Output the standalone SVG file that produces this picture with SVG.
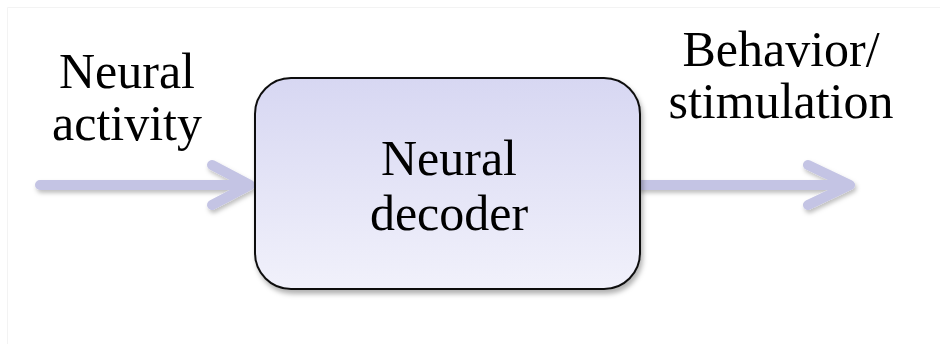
<svg xmlns="http://www.w3.org/2000/svg" width="940" height="344" viewBox="0 0 940 344">
  <style>
    .lbl { font-family: "Liberation Serif", "Times New Roman", serif; font-size: 50px; fill: #000; text-anchor: middle; }
    .arrow { fill: none; stroke: #c4c4e4; stroke-width: 10; stroke-linecap: round; stroke-linejoin: round; }
  </style>
  <defs>
    <linearGradient id="boxFill" x1="0" y1="0" x2="0" y2="1">
      <stop offset="0" stop-color="#d7d7f2"/>
      <stop offset="1" stop-color="#f1f1fb"/>
    </linearGradient>
    <filter id="shadow" x="-10%" y="-20%" width="130%" height="150%">
      <feDropShadow dx="2" dy="4" stdDeviation="2.5" flood-color="#000" flood-opacity="0.3"/>
    </filter>
    <filter id="ashadow" x="-10%" y="-50%" width="130%" height="200%">
      <feDropShadow dx="1.5" dy="3" stdDeviation="2" flood-color="#000" flood-opacity="0.25"/>
    </filter>
  </defs>
  <rect width="940" height="344" fill="#ffffff"/>
  <path d="M7.5 344 V7.5 H940" fill="none" stroke="#f3f3f3" stroke-width="1"/>

  <g id="connectors">
    <g id="arrow-in" filter="url(#ashadow)">
      <path class="arrow" d="M40 185 H246 M212 165 L250 185 L212 205"/>
    </g>
    <g id="arrow-out" filter="url(#ashadow)">
      <path class="arrow" d="M640 185 H846 M808 165 L850 185 L808 205"/>
    </g>
  </g>

  <g id="decoder">
    <rect x="255" y="78" width="385" height="211" rx="36" ry="36" fill="url(#boxFill)" stroke="#111" stroke-width="2" filter="url(#shadow)"/>
    <text class="lbl" x="449" y="175">Neural</text>
    <text class="lbl" x="449" y="230">decoder</text>
  </g>

  <g id="input-label">
    <text class="lbl" x="127" y="88">Neural</text>
    <text class="lbl" x="127" y="140">activity</text>
  </g>

  <g id="output-label">
    <text class="lbl" x="781" y="66">Behavior/</text>
    <text class="lbl" x="781" y="118">stimulation</text>
  </g>
</svg>
